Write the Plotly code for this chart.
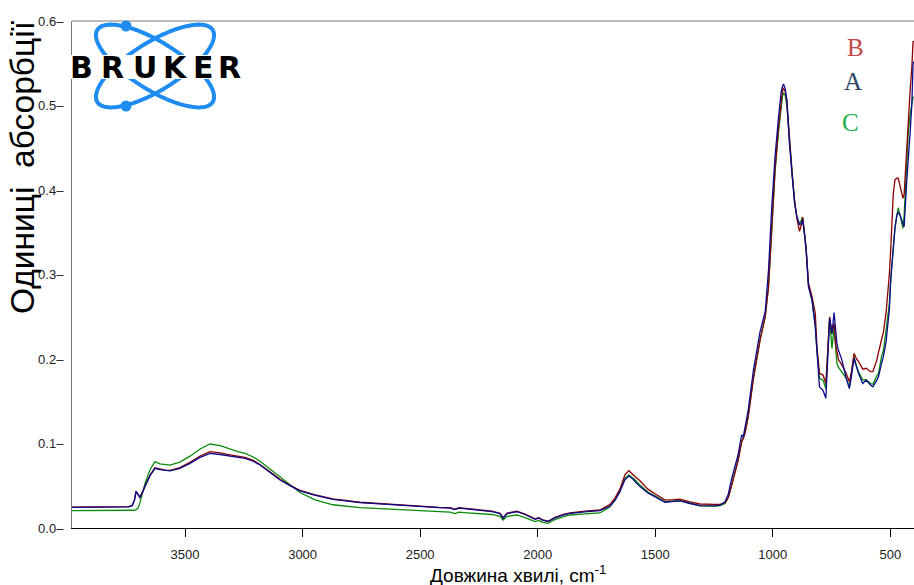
import numpy as np
import plotly.graph_objects as go

# ---------------- data ----------------
wavenumber = [3981, 3900, 3800, 3740, 3725, 3715, 3709, 3700, 3692, 3680, 3670, 3649, 3628, 3607, 3585, 3564,
              3522, 3479, 3436, 3394, 3351, 3309, 3275, 3245, 3210, 3181, 3140, 3096, 3050, 3011, 2950, 2871,
              2756, 2650, 2586, 2501, 2420, 2373, 2352, 2335, 2300, 2245, 2194, 2160, 2147, 2130, 2088, 2054,
              2025, 2011, 1995, 1982, 1956, 1926, 1890, 1862, 1799, 1735, 1692, 1670, 1650, 1629, 1612, 1595,
              1586, 1565, 1531, 1501, 1458, 1420, 1395, 1352, 1310, 1246, 1224, 1203, 1189, 1175, 1160, 1147,
              1139, 1132, 1125, 1118, 1104, 1082, 1054, 1032, 1018, 1004, 990, 975, 964, 958, 954, 947,
              940, 929, 918, 907, 897, 886, 879, 873, 866, 858, 848, 833, 819, 812, 801, 786,
              774, 766, 758, 753, 748, 739, 733, 727, 720, 706, 689, 674, 665, 654, 645, 635,
              617, 603, 583, 574, 557, 550, 537, 529, 518, 512, 504, 498, 487, 480, 472, 466,
              458, 451, 446, 441, 430, 423, 415, 408, 403, 399]

absorb_A = [0.0245, 0.0245, 0.0245, 0.0250, 0.0265, 0.0330, 0.0434, 0.0390, 0.0363, 0.0430, 0.0500, 0.0620, 0.0706, 0.0690, 0.0678, 0.0675,
            0.0705, 0.0765, 0.0835, 0.0884, 0.0870, 0.0850, 0.0838, 0.0825, 0.0790, 0.0745, 0.0660, 0.0568, 0.0495, 0.0440, 0.0390, 0.0340,
            0.0300, 0.0280, 0.0272, 0.0250, 0.0240, 0.0235, 0.0218, 0.0235, 0.0225, 0.0205, 0.0195, 0.0170, 0.0115, 0.0170, 0.0193, 0.0160,
            0.0120, 0.0103, 0.0118, 0.0095, 0.0075, 0.0120, 0.0155, 0.0174, 0.0190, 0.0205, 0.0260, 0.0330, 0.0430, 0.0570, 0.0615, 0.0580,
            0.0550, 0.0490, 0.0415, 0.0370, 0.0305, 0.0315, 0.0320, 0.0290, 0.0265, 0.0262, 0.0270, 0.0310, 0.0400, 0.0580, 0.0720, 0.0870,
            0.1000, 0.1100, 0.1080, 0.1180, 0.1400, 0.1870, 0.2320, 0.2560, 0.3050, 0.3800, 0.4400, 0.4870, 0.5160, 0.5230, 0.5254, 0.5200,
            0.5065, 0.4550, 0.4160, 0.3840, 0.3680, 0.3590, 0.3600, 0.3650, 0.3500, 0.3290, 0.2856, 0.2700, 0.2380, 0.2070, 0.1670, 0.1630,
            0.1535, 0.2000, 0.2480, 0.2400, 0.2300, 0.2550, 0.2350, 0.2186, 0.2100, 0.1990, 0.1790, 0.1650, 0.1800, 0.2008, 0.1920, 0.1830,
            0.1710, 0.1750, 0.1690, 0.1670, 0.1750, 0.1790, 0.1950, 0.2030, 0.2200, 0.2340, 0.2580, 0.2935, 0.3330, 0.3550, 0.3700, 0.3740,
            0.3700, 0.3645, 0.3600, 0.3566, 0.4100, 0.4355, 0.4700, 0.5026, 0.5500, 0.5520]

absorb_B = [0.0247, 0.0247, 0.0247, 0.0252, 0.0267, 0.0330, 0.0434, 0.0390, 0.0365, 0.0430, 0.0500, 0.0625, 0.0712, 0.0697, 0.0685, 0.0682,
            0.0715, 0.0778, 0.0852, 0.0903, 0.0890, 0.0866, 0.0850, 0.0837, 0.0800, 0.0752, 0.0668, 0.0576, 0.0500, 0.0445, 0.0395, 0.0345,
            0.0305, 0.0285, 0.0276, 0.0254, 0.0244, 0.0240, 0.0222, 0.0240, 0.0230, 0.0210, 0.0200, 0.0175, 0.0120, 0.0175, 0.0198, 0.0165,
            0.0125, 0.0108, 0.0122, 0.0100, 0.0080, 0.0125, 0.0160, 0.0180, 0.0200, 0.0213, 0.0280, 0.0360, 0.0460, 0.0630, 0.0678, 0.0640,
            0.0610, 0.0560, 0.0460, 0.0405, 0.0330, 0.0335, 0.0340, 0.0310, 0.0284, 0.0280, 0.0280, 0.0300, 0.0360, 0.0500, 0.0650, 0.0800,
            0.0920, 0.1020, 0.1060, 0.1120, 0.1320, 0.1770, 0.2220, 0.2500, 0.2850, 0.3600, 0.4250, 0.4750, 0.5080, 0.5180, 0.5200, 0.5170,
            0.5060, 0.4600, 0.4200, 0.3880, 0.3660, 0.3510, 0.3580, 0.3680, 0.3530, 0.3320, 0.2900, 0.2740, 0.2540, 0.2146, 0.1830, 0.1810,
            0.1710, 0.2100, 0.2500, 0.2400, 0.2304, 0.2420, 0.2186, 0.2090, 0.1990, 0.1930, 0.1840, 0.1730, 0.1850, 0.2067, 0.2010, 0.1970,
            0.1880, 0.1890, 0.1850, 0.1850, 0.1990, 0.2080, 0.2225, 0.2320, 0.2540, 0.2720, 0.3000, 0.3300, 0.3960, 0.4120, 0.4140, 0.4140,
            0.4050, 0.3950, 0.3900, 0.3950, 0.4550, 0.4900, 0.5200, 0.5460, 0.5755, 0.5760]

absorb_C = [0.0205, 0.0205, 0.0205, 0.0205, 0.0205, 0.0210, 0.0215, 0.0235, 0.0300, 0.0440, 0.0530, 0.0690, 0.0785, 0.0760, 0.0748, 0.0745,
            0.0780, 0.0850, 0.0935, 0.0994, 0.0975, 0.0935, 0.0905, 0.0884, 0.0840, 0.0790, 0.0700, 0.0607, 0.0500, 0.0420, 0.0335, 0.0275,
            0.0240, 0.0225, 0.0215, 0.0205, 0.0195, 0.0188, 0.0170, 0.0188, 0.0180, 0.0172, 0.0160, 0.0138, 0.0095, 0.0138, 0.0154, 0.0122,
            0.0090, 0.0075, 0.0090, 0.0070, 0.0055, 0.0100, 0.0135, 0.0154, 0.0168, 0.0178, 0.0250, 0.0340, 0.0440, 0.0590, 0.0630, 0.0595,
            0.0570, 0.0510, 0.0425, 0.0380, 0.0310, 0.0320, 0.0325, 0.0295, 0.0262, 0.0258, 0.0265, 0.0290, 0.0360, 0.0510, 0.0660, 0.0810,
            0.0930, 0.1030, 0.1070, 0.1130, 0.1330, 0.1780, 0.2230, 0.2500, 0.2860, 0.3600, 0.4220, 0.4700, 0.5030, 0.5120, 0.5144, 0.5120,
            0.5000, 0.4580, 0.4180, 0.3860, 0.3680, 0.3600, 0.3640, 0.3680, 0.3520, 0.3300, 0.2870, 0.2700, 0.2400, 0.2100, 0.1770, 0.1750,
            0.1650, 0.2050, 0.2480, 0.2300, 0.2126, 0.2380, 0.2150, 0.1950, 0.1900, 0.1850, 0.1780, 0.1670, 0.1830, 0.2027, 0.1930, 0.1850,
            0.1750, 0.1755, 0.1710, 0.1700, 0.1800, 0.1830, 0.2030, 0.2100, 0.2340, 0.2450, 0.2650, 0.2950, 0.3300, 0.3550, 0.3700, 0.3790,
            0.3700, 0.3600, 0.3547, 0.3700, 0.4400, 0.4700, 0.4900, 0.5000, 0.5100, 0.5100]

x_ticks = [3500, 3000, 2500, 2000, 1500, 1000, 500]
y_ticks = [0.0, 0.1, 0.2, 0.3, 0.4, 0.5, 0.6]
y_tick_text = ["0.0–", "0.1–", "0.2–", "0.3–", "0.4–", "0.5–", "0.6–"]
legend_labels = ["B", "A", "C"]

# ---------------- layout helpers ----------------
W, H = 914, 585
L, R, T, B = 72, 0, 21, 57
PW, PH = W - L - R, H - T - B


def px(x):
    return (x - L) / PW


def py(y):
    return (H - B - y) / PH


fig = go.Figure()
fig.add_trace(go.Scatter(x=wavenumber, y=absorb_C, mode="lines", line=dict(color="#0a8a0a", width=1.3), name="C"))
fig.add_trace(go.Scatter(x=wavenumber, y=absorb_B, mode="lines", line=dict(color="#8b0000", width=1.3), name="B"))
fig.add_trace(go.Scatter(x=wavenumber, y=absorb_A, mode="lines", line=dict(color="#0a0a8c", width=1.3), name="A"))

tickfont = dict(family="Liberation Sans, Arial, sans-serif", size=13, color="#222")

fig.update_layout(
    width=W, height=H,
    margin=dict(l=L, r=R, t=T, b=B, pad=0),
    paper_bgcolor="white", plot_bgcolor="white",
    showlegend=False,
    xaxis=dict(range=[3981, 399], tickvals=x_ticks, ticktext=[str(v) for v in x_ticks],
               ticks="outside", ticklen=8, tickcolor="black", tickwidth=1,
               showline=True, linecolor="black", linewidth=1, showgrid=False, zeroline=False,
               tickfont=tickfont, ticklabelstandoff=6),
    yaxis=dict(range=[0, 0.6], tickvals=y_ticks, ticktext=y_tick_text, ticks="",
               showline=True, linecolor="#7a7a7a", linewidth=1, showgrid=False, zeroline=False,
               tickfont=tickfont, ticklabelstandoff=5),
)

shapes = []
# top frame line
shapes.append(dict(type="line", xref="paper", yref="paper", x0=0, x1=1, y0=1, y1=1,
                   line=dict(color="#7a7a7a", width=1)))

# Bruker logo orbits
cx, cy, a, b = 155, 66, 68, 24
t = np.linspace(0, 2 * np.pi, 120)
for th in (np.radians(32), np.radians(-32)):
    xs = cx + a * np.cos(t) * np.cos(th) - b * np.sin(t) * np.sin(th)
    ys = cy + a * np.cos(t) * np.sin(th) + b * np.sin(t) * np.cos(th)
    path = "M " + " L ".join(f"{px(x):.5f},{py(y):.5f}" for x, y in zip(xs, ys)) + " Z"
    shapes.append(dict(type="path", xref="paper", yref="paper", path=path, layer="above",
                       line=dict(color="#1e8cf0", width=4)))
for (dx, dy) in [(126, 26), (126, 106)]:
    r = 5.5
    shapes.append(dict(type="circle", xref="paper", yref="paper", layer="above",
                       x0=px(dx - r), x1=px(dx + r), y0=py(dy + r), y1=py(dy - r),
                       fillcolor="#1e8cf0", line=dict(color="#1e8cf0", width=0)))
# white band behind logo text
shapes.append(dict(type="rect", xref="paper", yref="paper", layer="above",
                   x0=px(64), x1=px(244), y0=py(79), y1=py(55),
                   fillcolor="white", line=dict(width=0)))
fig.update_layout(shapes=shapes)

ann = []
for ch, cxl in zip("BRUKER", [81.5, 112.5, 144.5, 175, 203, 229]):
    ann.append(dict(text="<b>" + ch + "</b>", x=px(cxl), y=py(67), xref="paper", yref="paper", showarrow=False,
                    xanchor="center", yanchor="middle",
                    font=dict(family="DejaVu Sans", size=30, color="black")))

legend_pos = [(855, 47), (853, 81), (850, 122)]
legend_col = ["#c24848", "#2c4466", "#19ad4c"]
for lab, (lx, ly), col in zip(legend_labels, legend_pos, legend_col):
    ann.append(dict(text=lab, x=px(lx), y=py(ly), xref="paper", yref="paper", showarrow=False,
                    xanchor="center", yanchor="middle",
                    font=dict(family="Liberation Serif, Times New Roman, serif", size=25, color=col)))

ann.append(dict(text="Довжина хвилі, cm<sup>-1</sup>", x=px(518), y=py(574), xref="paper", yref="paper",
                showarrow=False, xanchor="center", yanchor="middle",
                font=dict(family="Liberation Sans, Arial, sans-serif", size=19, color="black")))
ann.append(dict(text="Одиниці \u00a0абсорбції", x=px(22), y=py(168), xref="paper", yref="paper",
                showarrow=False, xanchor="center", yanchor="middle", textangle=-90,
                font=dict(family="Liberation Sans, Arial, sans-serif", size=33.5, color="black")))
fig.update_layout(annotations=ann)

fig.write_html("out.html", config={"displayModeBar": False},
               post_script="document.body.style.margin='0';document.body.style.overflow='hidden';")
